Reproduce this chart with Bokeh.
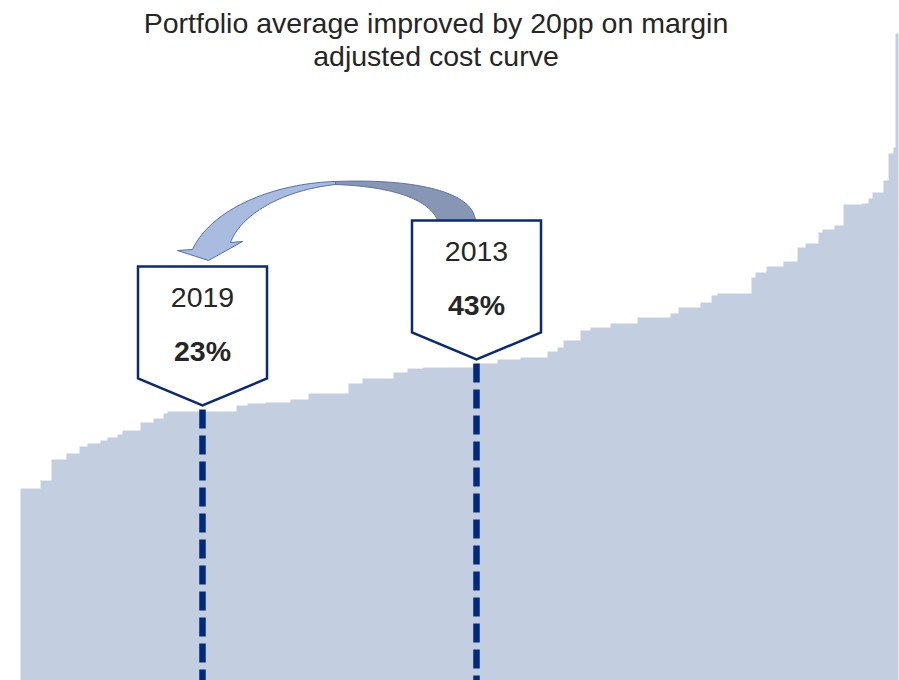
import numpy as np
from bokeh.plotting import figure
from bokeh.models import Range1d
from bokeh.core.properties import value
from bokeh.embed import file_html
from bokeh.resources import INLINE

# ---------------- data ----------------
title_lines = ["Portfolio average improved by 20pp on margin", "adjusted cost curve"]

# cost curve: cumulative volume where each step starts, and its cost level
segment_start = [0, 20, 31, 46, 59, 67, 80, 87, 97, 102, 120, 133, 143, 147, 216, 227,
                 245, 270, 288, 328, 342, 373, 387, 403, 453, 457, 477, 500, 527, 537,
                 543, 560, 570, 590, 617, 650, 658, 680, 691, 697, 731, 735, 746, 763,
                 777, 785, 798, 802, 814, 823, 841, 848, 852, 863, 868, 873, 875]
segment_cost = [192, 200, 221, 227, 234, 237, 240, 243, 246, 250, 258, 262, 267, 269, 275, 277,
                278, 281, 287, 297, 302, 308, 312, 313, 315, 317, 321, 323, 329, 333,
                340, 350, 353, 357, 363, 367, 373, 378, 385, 387, 403, 408, 414, 419,
                433, 437, 448, 451, 455, 476, 477, 482, 488, 500, 527, 533, 647]
curve_end = 878

years = ["2019", "2013"]
averages = ["23%", "43%"]
marker_volume = [182, 456]

# ---------------- styling ----------------
FONT = value("Liberation Sans")
TEXT_COLOR = "#262626"
NAVY = "#0a2a78"
DASH_NAVY = "#012a7c"
AREA = "#c4cee1"
FS = "28.5px"

p = figure(width=899, height=680, x_range=Range1d(-20, 879), y_range=Range1d(0, 680),
           output_backend="svg", toolbar_location=None,
           x_axis_location=None, y_axis_location=None, min_border=0)
p.grid.visible = False
p.outline_line_color = None
p.background_fill_color = "white"
p.border_fill_color = "white"

# ---------------- cost curve ----------------
edges = segment_start + [curve_end]
cx = [edges[0]]
cy = [0]
for i, c in enumerate(segment_cost):
    cx += [edges[i], edges[i + 1]]
    cy += [c, c]
cx.append(curve_end)
cy.append(0)
p.patch(cx, cy, fill_color=AREA, line_color=None)


def cost_at(v):
    idx = max(i for i, s in enumerate(segment_start) if s <= v)
    return segment_cost[idx]


# ---------------- curved arrow ----------------
def to_data(pts):
    return [x - 20 for x, y in pts], [680 - y for x, y in pts]


def bezier(p0, p1, p2, p3, n=40):
    t = np.linspace(0, 1, n)[:, None]
    a = np.array
    pts = ((1 - t) ** 3) * a(p0) + 3 * ((1 - t) ** 2) * t * a(p1) + 3 * (1 - t) * t ** 2 * a(p2) + t ** 3 * a(p3)
    return [tuple(q) for q in pts]


dark_outer = bezier((475, 222), (475, 190), (410, 178), (335, 181))
dark_inner = bezier((438, 222), (430, 198), (390, 186), (335, 184))
dark = dark_outer + dark_inner[::-1]
dx, dy = to_data(dark)
p.patch(dx, dy, fill_color="#8796b5", line_color="#5b72a4", line_width=1)

light_outer = bezier((335, 181), (270, 183), (210, 210), (192, 249))
light_inner = bezier((335, 184), (280, 190), (240, 215), (230, 242))
light = light_outer + [(177, 250), (208, 260), (242, 241)] + light_inner[::-1]
lx, ly = to_data(light)
p.patch(lx, ly, fill_color="#a9bcdf", line_color="#4f6fae", line_width=1)

# ---------------- callouts ----------------
half_w = 64.5
box_xs, box_ys = [], []
tips, tops = [], []
for m in marker_volume:
    tip = cost_at(m) + 6
    side = tip + 27
    top = side + 112
    tips.append(tip)
    tops.append(top)
    box_xs.append([m - half_w, m + half_w, m + half_w, m, m - half_w])
    box_ys.append([top, top, side, tip, side])

p.segment(x0=marker_volume, y0=[t - 4 for t in tips], x1=marker_volume, y1=[0, 0],
          line_color=DASH_NAVY, line_width=6.5, line_dash="19 7", line_cap="butt")

p.patches(box_xs, box_ys, fill_color="white", line_color=NAVY, line_width=2.5, line_join="miter")

p.text(x=marker_volume, y=[t - 31 for t in tops], text=years,
       text_font=FONT, text_font_size=FS, text_color=TEXT_COLOR,
       text_align="center", text_baseline="middle")
p.text(x=marker_volume, y=[t - 84 for t in tops], text=averages,
       text_font=FONT, text_font_size=FS, text_font_style="bold", text_color=TEXT_COLOR,
       text_align="center", text_baseline="middle")

# ---------------- title ----------------
p.text(x=[415.5, 415.5], y=[658, 625], text=title_lines,
       text_font=FONT, text_font_size=FS, text_color=TEXT_COLOR,
       text_align="center", text_baseline="alphabetic")

open("out.html", "w").write(file_html(p, INLINE))
